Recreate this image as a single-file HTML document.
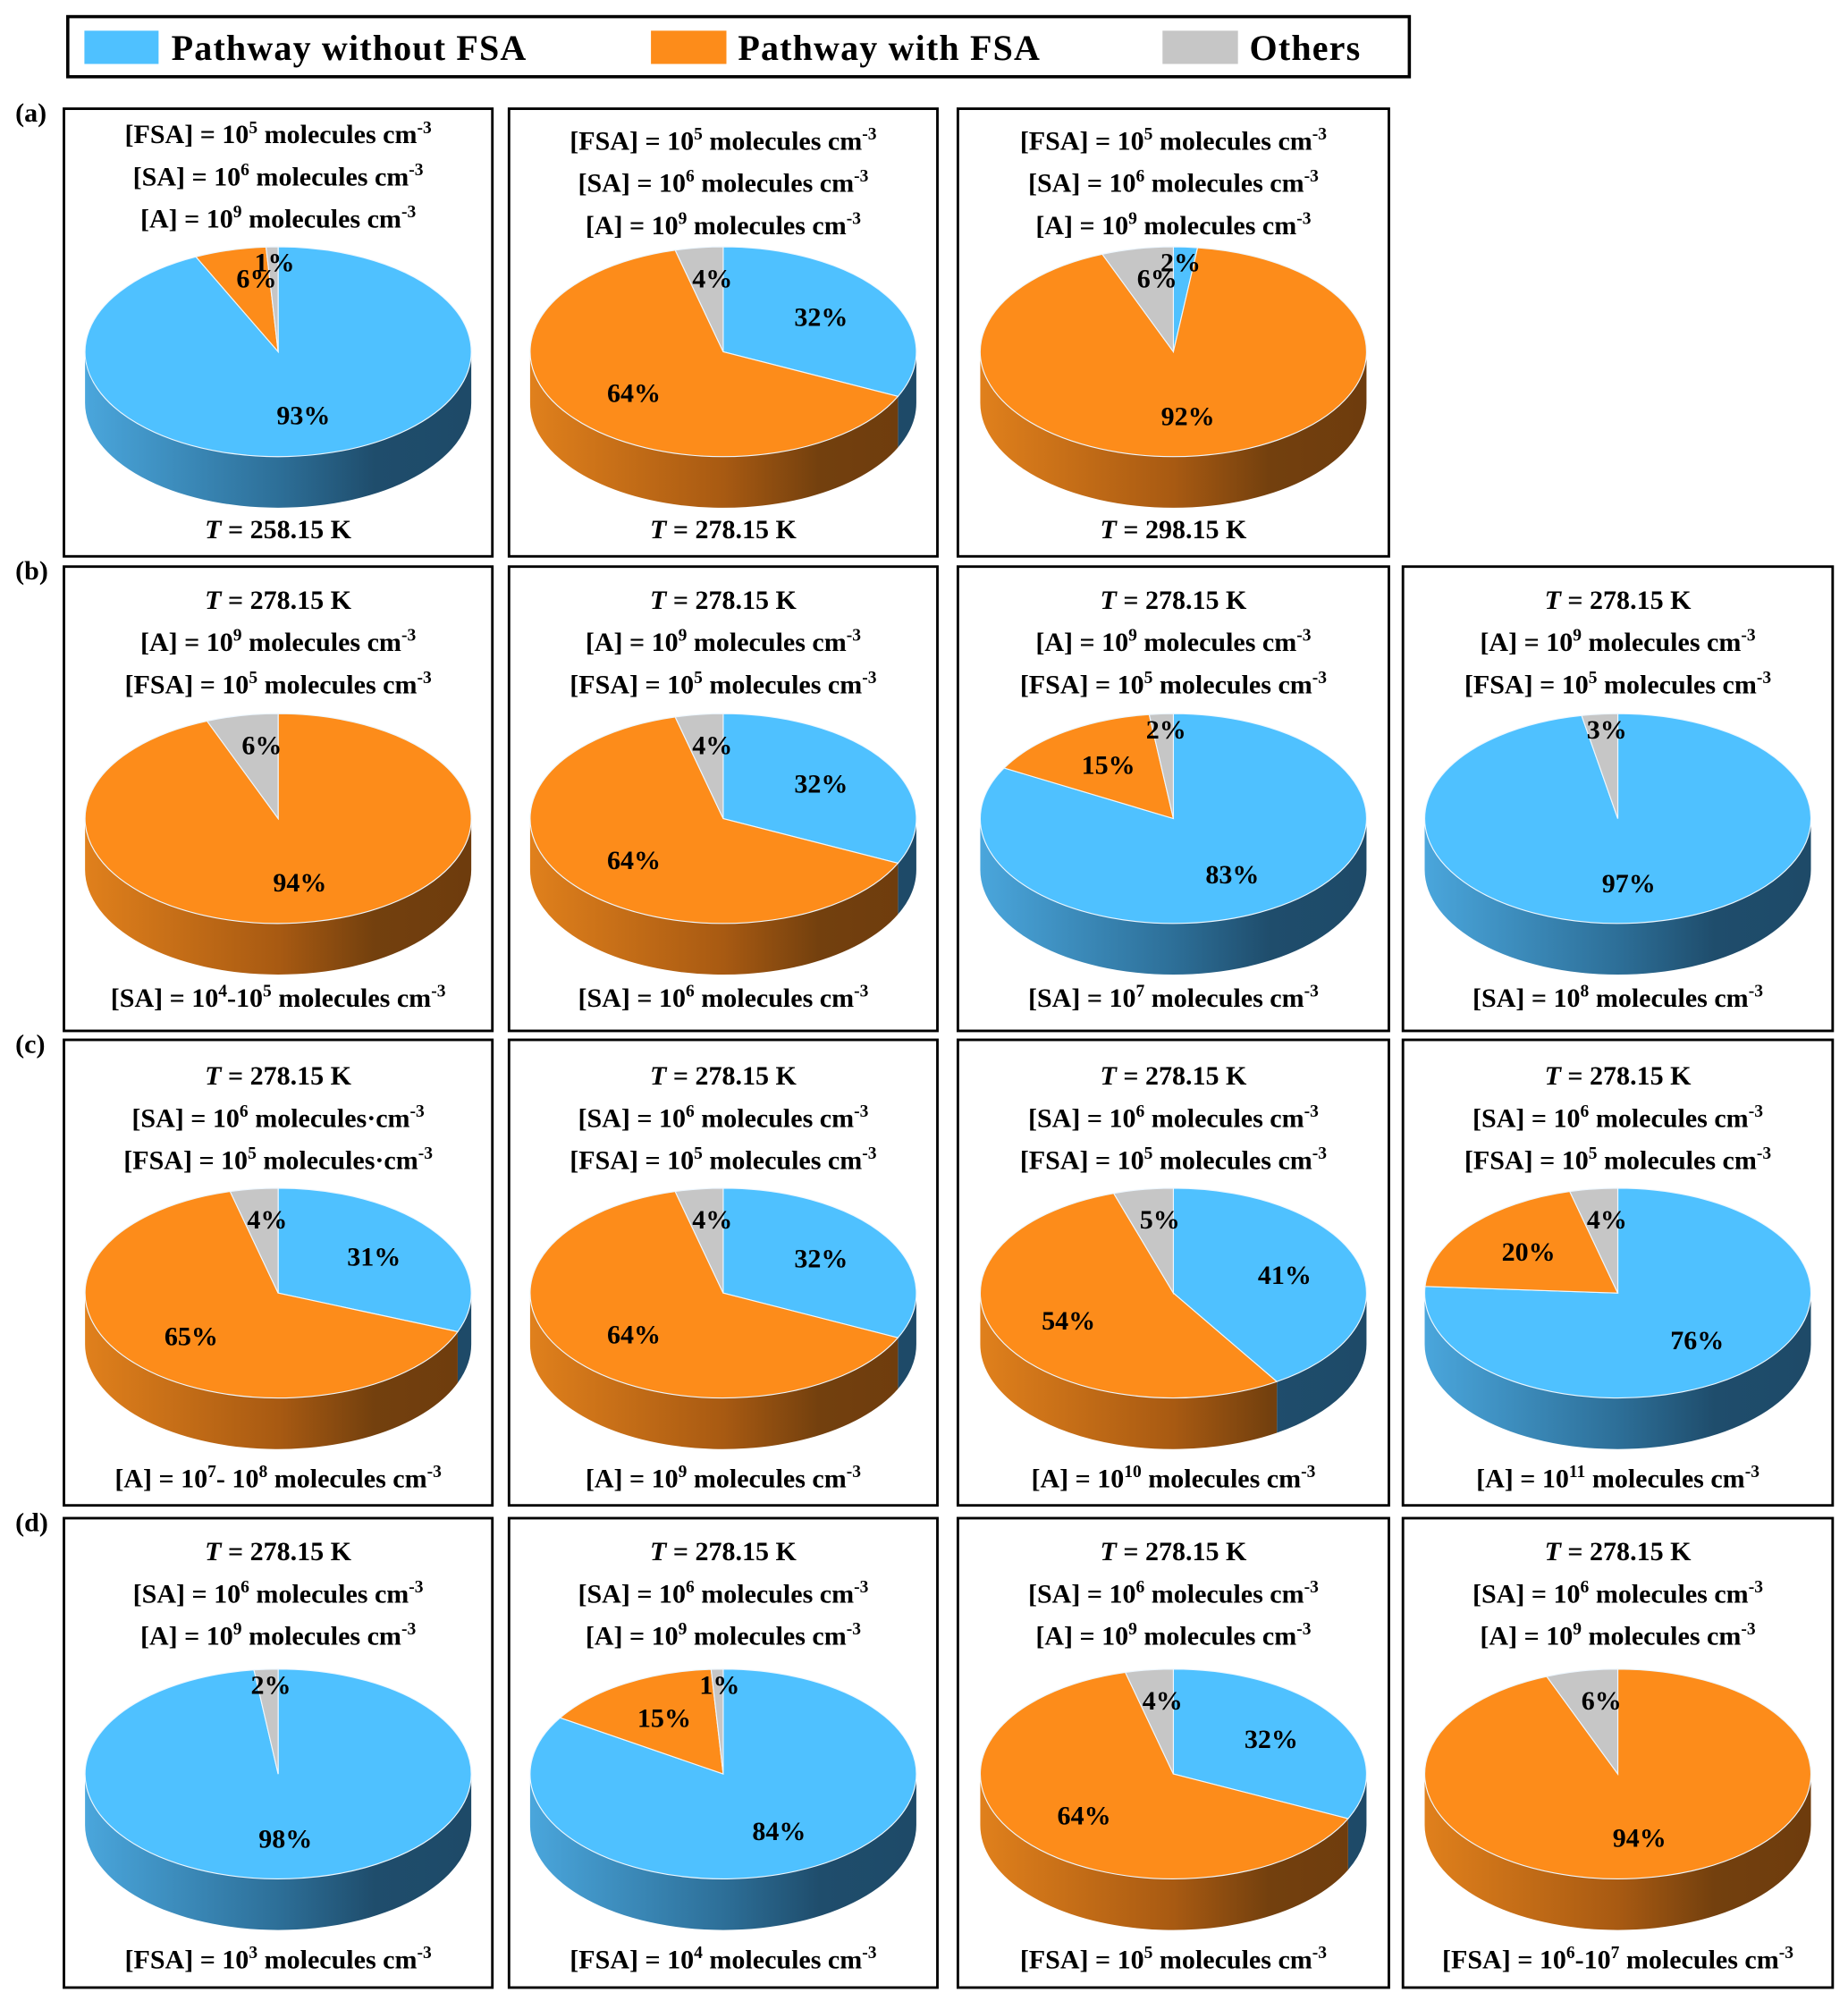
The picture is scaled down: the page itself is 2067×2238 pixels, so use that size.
<!DOCTYPE html>
<html><head><meta charset="utf-8"><style>
html,body{margin:0;padding:0;background:#fff}
svg{display:block;font-family:"Liberation Serif","DejaVu Serif",serif}
text,tspan{font-family:"Liberation Serif","DejaVu Serif",serif;font-weight:bold;fill:#000}
</style></head><body>
<svg id="chart" xmlns="http://www.w3.org/2000/svg" font-family="Liberation Serif, serif" width="2067" height="2238" viewBox="0 0 1445 1564.5" preserveAspectRatio="none">
<defs>
<linearGradient id="gb" x1="0" x2="1" y1="0" y2="0"><stop offset="0" stop-color="#4aa6dc"/><stop offset="0.5" stop-color="#2d6f98"/><stop offset="0.75" stop-color="#1f4d6c"/><stop offset="1" stop-color="#1e4a68"/></linearGradient>
<linearGradient id="go" x1="0" x2="1" y1="0" y2="0"><stop offset="0" stop-color="#e0801c"/><stop offset="0.5" stop-color="#a85a12"/><stop offset="0.75" stop-color="#73400e"/><stop offset="1" stop-color="#6e3c0d"/></linearGradient>
<linearGradient id="gg" x1="0" x2="1" y1="0" y2="0"><stop offset="0" stop-color="#b0b0b0"/><stop offset="1" stop-color="#707070"/></linearGradient>
</defs>
<g>
<rect x="53" y="13" width="1049" height="47" fill="#fff" stroke="#000" stroke-width="2.5"/>
<rect x="66" y="24" width="58" height="26" fill="#4fc1ff"/>
<text x="134" y="47" font-size="28" letter-spacing="0.8">Pathway without FSA</text>
<rect x="509" y="24" width="59" height="26" fill="#fd8c1a"/>
<text x="577" y="47" font-size="28" letter-spacing="0.8">Pathway with FSA</text>
<rect x="909" y="24" width="59" height="26" fill="#c6c6c6"/>
<text x="977" y="47" font-size="28" letter-spacing="0.8">Others</text>
</g>
<g id="panels"></g>
</svg>
<script>
// series values per panel: [without FSA, with FSA, others]
const withoutFSA = [93,32,2, 0,32,83,97, 31,32,41,76, 98,84,32,0];
const withFSA    = [6,64,92, 94,64,15,0, 65,64,54,20, 0,15,64,94];
const others     = [1,4,6, 6,4,2,3, 4,4,5,4, 2,1,4,6];
const panelRow   = [0,0,0, 1,1,1,1, 2,2,2,2, 3,3,3,3];
const panelCol   = [0,1,2, 0,1,2,3, 0,1,2,3, 0,1,2,3];
const topLines = [
 ["[FSA] = 10^{5} molecules cm^{-3}","[SA] = 10^{6} molecules cm^{-3}","[A] = 10^{9} molecules cm^{-3}"],
 ["[FSA] = 10^{5} molecules cm^{-3}","[SA] = 10^{6} molecules cm^{-3}","[A] = 10^{9} molecules cm^{-3}"],
 ["[FSA] = 10^{5} molecules cm^{-3}","[SA] = 10^{6} molecules cm^{-3}","[A] = 10^{9} molecules cm^{-3}"],
 ["_T_ = 278.15 K","[A] = 10^{9} molecules cm^{-3}","[FSA] = 10^{5} molecules cm^{-3}"],
 ["_T_ = 278.15 K","[A] = 10^{9} molecules cm^{-3}","[FSA] = 10^{5} molecules cm^{-3}"],
 ["_T_ = 278.15 K","[A] = 10^{9} molecules cm^{-3}","[FSA] = 10^{5} molecules cm^{-3}"],
 ["_T_ = 278.15 K","[A] = 10^{9} molecules cm^{-3}","[FSA] = 10^{5} molecules cm^{-3}"],
 ["_T_ = 278.15 K","[SA] = 10^{6} molecules·cm^{-3}","[FSA] = 10^{5} molecules·cm^{-3}"],
 ["_T_ = 278.15 K","[SA] = 10^{6} molecules cm^{-3}","[FSA] = 10^{5} molecules cm^{-3}"],
 ["_T_ = 278.15 K","[SA] = 10^{6} molecules cm^{-3}","[FSA] = 10^{5} molecules cm^{-3}"],
 ["_T_ = 278.15 K","[SA] = 10^{6} molecules cm^{-3}","[FSA] = 10^{5} molecules cm^{-3}"],
 ["_T_ = 278.15 K","[SA] = 10^{6} molecules cm^{-3}","[A] = 10^{9} molecules cm^{-3}"],
 ["_T_ = 278.15 K","[SA] = 10^{6} molecules cm^{-3}","[A] = 10^{9} molecules cm^{-3}"],
 ["_T_ = 278.15 K","[SA] = 10^{6} molecules cm^{-3}","[A] = 10^{9} molecules cm^{-3}"],
 ["_T_ = 278.15 K","[SA] = 10^{6} molecules cm^{-3}","[A] = 10^{9} molecules cm^{-3}"]
];
const bottomLines = ["_T_ = 258.15 K","_T_ = 278.15 K","_T_ = 298.15 K",
 "[SA] = 10^{4}-10^{5} molecules cm^{-3}","[SA] = 10^{6} molecules cm^{-3}","[SA] = 10^{7} molecules cm^{-3}","[SA] = 10^{8} molecules cm^{-3}",
 "[A] = 10^{7}- 10^{8} molecules cm^{-3}","[A] = 10^{9} molecules cm^{-3}","[A] = 10^{10} molecules cm^{-3}","[A] = 10^{11} molecules cm^{-3}",
 "[FSA] = 10^{3} molecules cm^{-3}","[FSA] = 10^{4} molecules cm^{-3}","[FSA] = 10^{5} molecules cm^{-3}","[FSA] = 10^{6}-10^{7} molecules cm^{-3}"];
const rowLabels = ["(a)","(b)","(c)","(d)"];

// layout (not data)
const rowTop=[85,443,813,1187], rowBot=[435,806,1177,1554];
const colL=[50,398,749,1097], colR=[385,733,1086,1433];
const pieCY=[275,640,1011,1387], titleY=[[112,117,117],[476,476,476,476],[848,848,848,848],[1220,1220,1220,1220]];
const botY=[421,787,1163,1539];
const RX=151, RY=82, D=40;
const colors=["#4fc1ff","#fd8c1a","#c6c6c6"], grads=["gb","go","gg"];
const NS="http://www.w3.org/2000/svg";
const root=document.getElementById('panels');

function mk(tag,attrs,parent){const e=document.createElementNS(NS,tag);for(const k in attrs)e.setAttribute(k,attrs[k]);parent.appendChild(e);return e;}
function richText(str,x,y,size,parent){
  const t=mk('text',{x:x,y:y,'font-size':size,'text-anchor':'middle'},parent);
  const re=/(\^\{[^}]*\}|_[^_]*_)/g; let last=0,m; let pendingDown=0;
  const add=(s,opts)=>{const ts=mk('tspan',{},t);ts.textContent=s;for(const k in opts)ts.setAttribute(k,opts[k]);return ts;};
  while((m=re.exec(str))){
    if(m.index>last){add(str.slice(last,m.index),pendingDown?{dy:pendingDown}:{});pendingDown=0;}
    const tok=m[0];
    if(tok[0]==='^'){add(tok.slice(2,-1),{dy:-8-pendingDown,'font-size':size*0.65});pendingDown=8;}
    else{add(tok.slice(1,-1),Object.assign({'font-style':'italic'},pendingDown?{dy:pendingDown}:{}));pendingDown=0;}
    last=m.index+tok.length;
  }
  if(last<str.length)add(str.slice(last),pendingDown?{dy:pendingDown}:{});
  return t;
}
function P(cx,cy,a){return [cx+RX*Math.sin(a),cy-RY*Math.cos(a)];}

rowLabels.forEach((l,r)=>{
  const t=mk('text',{x:12,y:rowTop[r]+10,'font-size':21},root);t.textContent=l;
  
  
});

for(let i=0;i<withoutFSA.length;i++){
  const r=panelRow[i], c=panelCol[i];
  const g=mk('g',{},root);
  
  
  const x0=colL[c], x1=colR[c];
  const box=mk('rect',{x:x0,y:rowTop[r],width:x1-x0,height:rowBot[r]-rowTop[r],fill:'#fff',stroke:'#000','stroke-width':2},g);
  
  
  const cx=(x0+x1)/2, cy=pieCY[r];
  topLines[i].forEach((ln,k)=>{
    const t=richText(ln,cx,titleY[r][c]+k*33,21,g);
    
    
  });
  const bt=richText(bottomLines[i],cx,botY[r],21,g);
  
  
  const vals=[withoutFSA[i],withFSA[i],others[i]];
  const tot=vals.reduce((a,b)=>a+b,0);
  const slices=[];let acc=0;
  vals.forEach((v,k)=>{const a0=acc/tot*2*Math.PI;acc+=v;const a1=acc/tot*2*Math.PI;slices.push({k,v,a0,a1});});
  slices.forEach(s=>{
    if(s.v<=0)return;
    const a=Math.max(s.a0,Math.PI/2), b=Math.min(s.a1,3*Math.PI/2);
    if(b<=a)return;
    const p=P(cx,cy,a), q=P(cx,cy,b);
    const gid=grads[s.k]+'_'+i;
    const lg=mk('linearGradient',{id:gid,href:'#'+grads[s.k],gradientUnits:'userSpaceOnUse',x1:cx-RX,x2:cx+RX,y1:0,y2:0},g);
    lg.setAttributeNS('http://www.w3.org/1999/xlink','href','#'+grads[s.k]);
    const d=`M${p[0]},${p[1]} A${RX},${RY} 0 0 1 ${q[0]},${q[1]} L${q[0]},${q[1]+D} A${RX},${RY} 0 0 0 ${p[0]},${p[1]+D} Z`;
    const e=mk('path',{d:d,fill:`url(#${gid})`},g);
    
    
  });
  slices.forEach(s=>{
    if(s.v<=0)return;
    let d;
    if(s.v>=tot){d=`M${cx-RX},${cy} A${RX},${RY} 0 1 1 ${cx+RX},${cy} A${RX},${RY} 0 1 1 ${cx-RX},${cy} Z`;}
    else{const p=P(cx,cy,s.a0), q=P(cx,cy,s.a1);const large=(s.a1-s.a0)>Math.PI?1:0;
      d=`M${cx},${cy} L${p[0]},${p[1]} A${RX},${RY} 0 ${large} 1 ${q[0]},${q[1]} Z`;}
    const e=mk('path',{d:d,fill:colors[s.k],stroke:'#eef7ff','stroke-width':0.8},g);
    
    
  });
  slices.forEach(s=>{
    if(s.v<=0)return;
    const m=(s.a0+s.a1)/2;
    let lx,ly;
    if(s.v<10){
      const fx=s.v<=3?0.6:0.45, fy=s.v<=3?0.85:0.7;
      lx=cx+RX*fx*Math.sin(m); ly=cy-RY*fy+7;
    } else {
      lx=cx+RX*0.6*Math.sin(m); ly=cy-RY*0.62*Math.cos(m)+7;
    }
    const t=mk('text',{x:lx,y:ly,'font-size':21,'text-anchor':'middle'},g);
    t.textContent=s.v+'%';
    
    
  });
}
</script>
</body></html>
